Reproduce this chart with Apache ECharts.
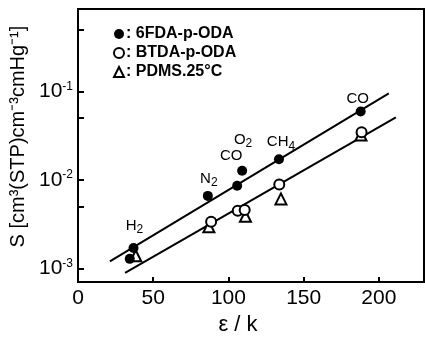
<!DOCTYPE html>
<html>
<head>
<meta charset="utf-8">
<script src="https://cdn.jsdelivr.net/npm/echarts@6/dist/echarts.min.js"></script>
<style>
html,body{margin:0;padding:0;background:#fff;}
#chart{width:425px;height:341px;}
</style>
</head>
<body>
<div id="chart"></div>
<script>
// ---- data ----
var legendNames = ['6FDA-p-ODA', 'BTDA-p-ODA', 'PDMS.25°C'];

// 6FDA-p-ODA (filled circles): [eps/k, S]
var fdaX = [36.9, 34.4, 86.3, 105.8, 109.1, 133.6, 187.9];
var fdaY = [1.70e-3, 1.28e-3, 6.6e-3, 8.6e-3, 1.27e-2, 1.71e-2, 5.95e-2];
var gasLabels = ['H{sub|2}', '', 'N{sub|2}', 'CO', 'O{sub|2}', 'CH{sub|4}', 'CO'];

// BTDA-p-ODA (open circles)
var btdaX = [88.5, 106.2, 110.8, 133.8, 188.5];
var btdaY = [3.36e-3, 4.49e-3, 4.56e-3, 8.87e-3, 3.47e-2];

// PDMS 25°C (open triangles)
var pdmsX = [38.4, 87.0, 111.3, 134.9, 188.1];
var pdmsY = [1.39e-3, 2.95e-3, 3.88e-3, 6.1e-3, 3.22e-2];

// fitted lines
var upperLineX = [21.2, 206.6];
var upperLineY = [1.20e-3, 9.50e-2];
var lowerLineX = [31.3, 211.3];
var lowerLineY = [8.87e-4, 5.11e-2];

// axis ticks
var xTicks = [0, 50, 100, 150, 200];
var yLabelTicks = [0.001, 0.01, 0.1];
var yTickValues = [0.001, 0.005, 0.01, 0.05, 0.1, 0.5];

function pairs(xs, ys) { return xs.map(function (x, i) { return [x, ys[i]]; }); }

var FONT = 'Liberation Sans';
var labelOffsets = [[1, -22], [0, 0], [1, -17], [-6, -30], [1, -31], [2, -17], [-3, -13]];
var subRich = { sub: { fontFamily: FONT, fontSize: 12, color: '#000', padding: [8, 0, 0, 0] } };

var fdaData = fdaX.map(function (x, i) {
  var item = { value: [x, fdaY[i]] };
  if (gasLabels[i]) {
    item.label = {
      show: true, position: 'inside', offset: labelOffsets[i], formatter: gasLabels[i],
      color: '#000', fontFamily: FONT, fontSize: 15, rich: subRich
    };
  }
  return item;
});

var chart = echarts.init(document.getElementById('chart'), null, { renderer: 'canvas' });
chart.setOption({
  animation: false,
  backgroundColor: '#fff',
  grid: { left: 77, top: 9, right: 1, bottom: 54, show: true, borderColor: '#000', borderWidth: 2 },
  legend: {
    orient: 'vertical', left: 108, top: 21, itemWidth: 10, itemHeight: 10, itemGap: 3,
    data: legendNames,
    formatter: function (n) { return ': ' + n; },
    textStyle: { fontFamily: FONT, fontSize: 16, fontWeight: 'bold', color: '#000', padding: [0, 0, 0, -3] }
  },
  xAxis: {
    type: 'value', min: 0, max: 230,
    name: 'ε / k', nameLocation: 'middle', nameGap: 28,
    nameTextStyle: { fontFamily: FONT, fontSize: 22, color: '#000', padding: [0, 26, 0, 0] },
    axisLine: { lineStyle: { color: '#000', width: 2 } },
    axisTick: { inside: true, length: 5, lineStyle: { color: '#000', width: 2 }, customValues: xTicks },
    axisLabel: { customValues: xTicks, fontFamily: FONT, fontSize: 21, color: '#000', margin: 6 },
    splitLine: { show: false }
  },
  yAxis: {
    type: 'log', logBase: 10, min: 6.99e-4, max: 0.857,
    name: 'S [cm³(STP)cm⁻³cmHg⁻¹]', nameLocation: 'middle', nameGap: 50, nameRotate: 90,
    nameTextStyle: { fontFamily: FONT, fontSize: 20, color: '#000', padding: [0, 0, 0, 18] },
    axisLine: { lineStyle: { color: '#000', width: 2 } },
    axisTick: { inside: true, length: 6, lineStyle: { color: '#000', width: 2 }, customValues: yTickValues },
    axisLabel: {
      customValues: yLabelTicks, margin: 5,
      formatter: function (v) { return '10{sup|' + Math.round(Math.log10(v)) + '}'; },
      fontFamily: FONT, fontSize: 21, color: '#000',
      rich: { sup: { fontFamily: FONT, fontSize: 12, color: '#000', verticalAlign: 'top', padding: [0, 0, 10, 0] } }
    },
    splitLine: { show: false }
  },
  series: [
    {
      name: legendNames[0], type: 'scatter', symbol: 'circle', symbolSize: 10,
      itemStyle: { color: '#000', opacity: 1 }, data: fdaData, z: 5
    },
    {
      name: legendNames[1], type: 'scatter', symbol: 'circle', symbolSize: 10,
      itemStyle: { color: '#fff', borderColor: '#000', borderWidth: 2, opacity: 1 }, data: pairs(btdaX, btdaY), z: 6
    },
    {
      name: legendNames[2], type: 'scatter', symbol: 'triangle', symbolSize: 11,
      itemStyle: { color: '#fff', borderColor: '#000', borderWidth: 2, opacity: 1 }, data: pairs(pdmsX, pdmsY), z: 4
    },
    {
      type: 'line', data: pairs(upperLineX, upperLineY), symbol: 'none',
      lineStyle: { color: '#000', width: 2 }, z: 3, silent: true
    },
    {
      type: 'line', data: pairs(lowerLineX, lowerLineY), symbol: 'none',
      lineStyle: { color: '#000', width: 2 }, z: 3, silent: true
    }
  ]
});
</script>
</body>
</html>
